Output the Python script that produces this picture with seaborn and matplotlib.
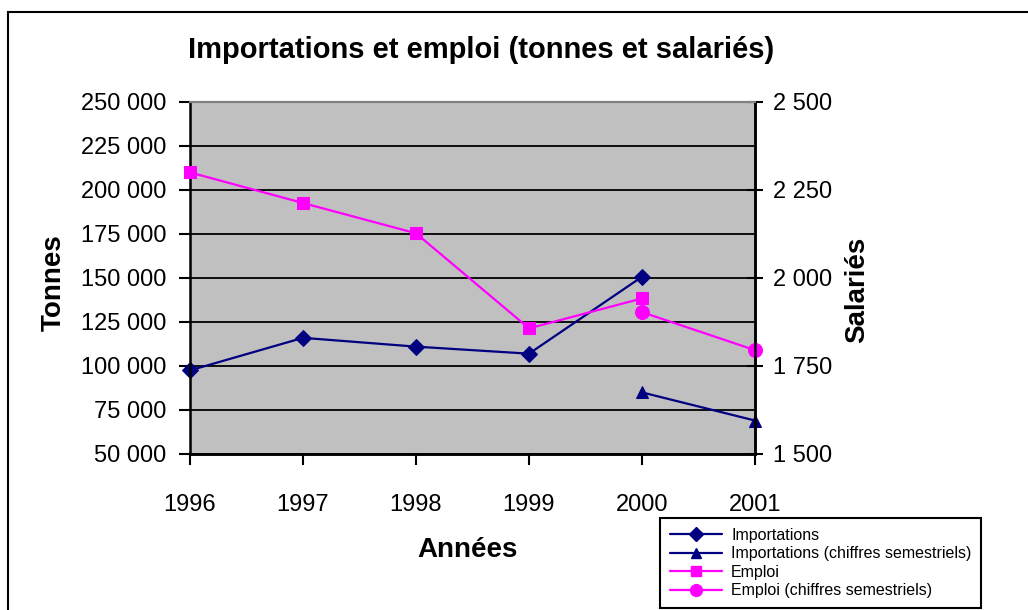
import matplotlib
matplotlib.use("Agg")
import matplotlib.pyplot as plt
import matplotlib.patches as patches
from matplotlib.lines import Line2D
from matplotlib.ticker import FuncFormatter
import pandas as pd
import seaborn as sns

# Données
annees = [1996, 1997, 1998, 1999, 2000]
importations = [97500, 116000, 111000, 107000, 150700]
emploi = [2300, 2213, 2127, 1857, 1942]

annees_sem = [2000, 2001]
importations_sem = [85000, 69000]
emploi_sem = [1903, 1795]

annee_ticks = [1996, 1997, 1998, 1999, 2000, 2001]
tonnes_ticks = [50000, 75000, 100000, 125000, 150000, 175000, 200000, 225000, 250000]
salaries_ticks = [1500, 1750, 2000, 2250, 2500]

df = pd.DataFrame({'annee': annees, 'importations': importations, 'emploi': emploi})
df_sem = pd.DataFrame({'annee': annees_sem, 'importations': importations_sem, 'emploi': emploi_sem})

sns.set_style('white')
plt.rcParams['font.family'] = ['Liberation Sans', 'DejaVu Sans']
plt.rcParams['text.color'] = 'black'
plt.rcParams['xtick.color'] = 'black'
plt.rcParams['ytick.color'] = 'black'

NAVY = '#000080'
MAGENTA = '#FF00FF'

fig = plt.figure(figsize=(10.28, 6.10), dpi=100)
ax = fig.add_axes([190 / 1028, 1 - 454 / 610, 565 / 1028, 352 / 610])
ax2 = ax.twinx()

ax.set_facecolor('#C0C0C0')

# Séries tonnes (axe gauche)
sns.lineplot(data=df, x='annee', y='importations', ax=ax, color=NAVY, marker='D',
             markersize=8.5, markeredgecolor=NAVY, linewidth=1.6, clip_on=False)
sns.lineplot(data=df_sem, x='annee', y='importations', ax=ax, color=NAVY, marker='^',
             markersize=9, markeredgecolor=NAVY, linewidth=1.6, clip_on=False)

# Séries salariés (axe droit)
sns.lineplot(data=df, x='annee', y='emploi', ax=ax2, color=MAGENTA, marker='s',
             markersize=8.5, markeredgecolor=MAGENTA, linewidth=1.6, clip_on=False)
sns.lineplot(data=df_sem, x='annee', y='emploi', ax=ax2, color=MAGENTA, marker='o',
             markersize=10, markeredgecolor=MAGENTA, linewidth=1.6, clip_on=False)

fmt = FuncFormatter(lambda v, p: f"{v:,.0f}".replace(",", " "))

ax.set_xlim(1996, 2001)
ax.set_ylim(50000, 250000)
ax.set_xticks(annee_ticks)
ax.set_xticklabels([str(a) for a in annee_ticks])
ax.set_yticks(tonnes_ticks)
ax.yaxis.set_major_formatter(fmt)
ax.grid(axis='y', color='black', linewidth=1.3)
ax.grid(axis='x', visible=False)
ax.set_axisbelow(True)
ax.set_xlabel('')
ax.set_ylabel('')

ax2.set_ylim(1500, 2500)
ax2.set_yticks(salaries_ticks)
ax2.yaxis.set_major_formatter(fmt)
ax2.set_ylabel('')

ax.tick_params(axis='y', direction='out', length=8, width=1.5, labelsize=17, pad=9, left=True)
ax.tick_params(axis='x', direction='out', length=8, width=1.5, labelsize=17, pad=21, bottom=True)
ax2.tick_params(axis='y', direction='inout', length=12, width=1.5, labelsize=17, pad=7, right=True)

for a in (ax, ax2):
    for s in ('left', 'right', 'bottom'):
        a.spines[s].set_color('black')
        a.spines[s].set_linewidth(1.8)
    a.spines['top'].set_color('#808080')
    a.spines['top'].set_linewidth(1.5)
ax2.spines['left'].set_visible(False)

# Titre et libellés
fig.text(481 / 1028, 1 - 50 / 610, 'Importations et emploi (tonnes et salariés)',
         ha='center', va='center', fontsize=21, fontweight='bold')
fig.text(467 / 1028, 1 - 557 / 610, 'Années', ha='center', va='baseline',
         fontsize=20, fontweight='bold')
fig.text(54 / 1028, 1 - 283 / 610, 'Tonnes', ha='center', va='center', rotation=90,
         fontsize=20, fontweight='bold')
fig.text(857 / 1028, 1 - 290 / 610, 'Salariés', ha='center', va='center', rotation=90,
         fontsize=20, fontweight='bold')

# Légende
handles = [
    Line2D([], [], color=NAVY, marker='D', markersize=7.5, linewidth=1.6),
    Line2D([], [], color=NAVY, marker='^', markersize=7.5, linewidth=1.6),
    Line2D([], [], color=MAGENTA, marker='s', markersize=7.5, linewidth=1.6),
    Line2D([], [], color=MAGENTA, marker='o', markersize=8.5, linewidth=1.6),
]
labels = ['Importations', 'Importations (chiffres semestriels)', 'Emploi',
          'Emploi (chiffres semestriels)']
leg = fig.legend(handles, labels, loc='upper left',
                 bbox_to_anchor=(660 / 1028, 1 - 518 / 610), fontsize=11.5,
                 frameon=True, fancybox=False, edgecolor='black', framealpha=1,
                 handlelength=3.3, handletextpad=0.55, labelspacing=0.22,
                 borderpad=0.6, borderaxespad=0)
leg.get_frame().set_linewidth(1.5)

# Cadre extérieur du graphique
fig.add_artist(patches.Rectangle((8 / 1028, -0.1), 1.2, 1.1 - 12.5 / 610,
                                 transform=fig.transFigure, fill=False,
                                 edgecolor='black', linewidth=1.5))

fig.savefig('out.png', dpi=100)
